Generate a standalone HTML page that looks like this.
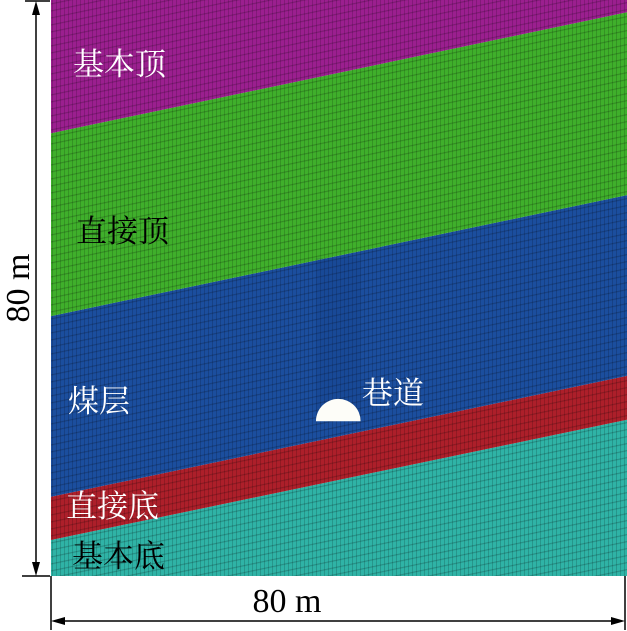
<!DOCTYPE html>
<html><head><meta charset="utf-8"><style>
html,body{margin:0;padding:0;background:#fff;overflow:hidden;width:627px;height:631px;}
svg{display:block;}
text{font-family:"Liberation Serif","Noto Serif CJK SC","Noto Sans CJK SC",serif;}
</style></head><body>
<svg id="fig" width="627" height="631" viewBox="0 0 627 631" xmlns="http://www.w3.org/2000/svg">
<defs>
<pattern id="vgrid" width="4" height="4" patternUnits="userSpaceOnUse">
<rect x="0" y="0" width="1" height="4" fill="#000" fill-opacity="0.16"/>
</pattern>
<pattern id="hgrid" width="4" height="7" patternUnits="userSpaceOnUse" patternTransform="skewY(-11.8)">
<rect x="0" y="0" width="4" height="1.2" fill="#000" fill-opacity="0.2"/>
</pattern>
<clipPath id="meshclip"><rect x="51" y="0" width="576" height="576"/></clipPath>
</defs>
<g id="mesh" clip-path="url(#meshclip)"></g>
<g id="dims" stroke="#000" stroke-width="1.5" fill="none">
<line x1="25" y1="1" x2="50" y2="1"/>
<line x1="22" y1="576" x2="50" y2="576"/>
<line x1="36" y1="8" x2="36" y2="569"/>
<line x1="51" y1="576" x2="51" y2="630"/>
<line x1="625" y1="576" x2="625" y2="630"/>
<line x1="58" y1="621" x2="618" y2="621"/>
</g>
<g fill="#000">
<polygon points="36,1 32,15 40,15"/>
<polygon points="36,576 32,562 40,562"/>
<polygon points="51,621 65,617 65,625"/>
<polygon points="625,621 611,617 611,625"/>
</g>
<text x="0" y="0" font-size="34" text-anchor="middle" transform="translate(29,288) rotate(-90)">80 m</text>
<text x="287" y="612" font-size="34" text-anchor="middle">80 m</text>
<g font-size="31">
<text x="73" y="75" fill="#fff">基本顶</text>
<text x="76" y="242" fill="#000">直接顶</text>
<text x="68" y="412" fill="#fff">煤层</text>
<text x="362" y="404" fill="#fff">巷道</text>
<text x="66" y="517" fill="#fff">直接底</text>
<text x="72" y="567" fill="#000">基本底</text>
</g>
</svg>
<script>
// layer boundary heights (m, from bottom) at left and right edges of the 80 m model
const layerNames = ['main-floor','immediate-floor','coal-seam','immediate-roof','main-roof'];
const layerColors = ['#2fb3a6','#ad1f2a','#1b4e9e','#3faf2b','#9b1f8f'];
const boundaryLeft = [0, 5.0, 11.0, 36.1, 61.5, 80];
const boundaryRight = [0, 21.7, 27.8, 52.9, 78.3, 80];
const roadwayX = 39.9, roadwayBase = 21.5, roadwayR = 3.1;
const X0 = 51, Y0 = 576, S = 7.2, W = 80;
const sx = m => X0 + m * S;
const sy = m => Y0 - m * S;
const clampY = v => Math.max(0, Math.min(576, v));
const NS = 'http://www.w3.org/2000/svg';
const mesh = document.getElementById('mesh');
for (let i = 0; i < layerNames.length; i++) {
  const p = document.createElementNS(NS, 'polygon');
  const yl0 = boundaryLeft[i], yr0 = boundaryRight[i];
  const yl1 = boundaryLeft[i + 1], yr1 = boundaryRight[i + 1];
  p.setAttribute('points', `${sx(0)},${clampY(sy(yl0))} ${sx(W)},${clampY(sy(yr0))} ${sx(W)},${clampY(sy(yr1))} ${sx(0)},${clampY(sy(yl1))}`);
  p.setAttribute('fill', layerColors[i]);
  
  
  mesh.appendChild(p);
}
const g1 = document.createElementNS(NS, 'rect');
g1.setAttribute('x', 51); g1.setAttribute('y', 0); g1.setAttribute('width', 576); g1.setAttribute('height', 576);
g1.setAttribute('fill', 'url(#vgrid)');


mesh.appendChild(g1);
const g2 = document.createElementNS(NS, 'rect');
g2.setAttribute('x', 51); g2.setAttribute('y', 0); g2.setAttribute('width', 576); g2.setAttribute('height', 576);
g2.setAttribute('fill', 'url(#hgrid)');


mesh.appendChild(g2);
const tTop = boundaryLeft[3] + (boundaryRight[3] - boundaryLeft[3]) * (roadwayX / W) - 0.3;
const shade = document.createElementNS(NS, 'rect');
shade.setAttribute('x', sx(roadwayX - roadwayR)); shade.setAttribute('y', sy(tTop));
shade.setAttribute('width', 2 * roadwayR * S); shade.setAttribute('height', (tTop - roadwayBase) * S);
shade.setAttribute('fill', '#0a2a6a'); shade.setAttribute('fill-opacity', '0.12');


mesh.appendChild(shade);
const rw = document.createElementNS(NS, 'path');
const cx = sx(roadwayX), by = sy(roadwayBase), r = roadwayR * S;
rw.setAttribute('d', `M${cx - r},${by} A${r},${r} 0 0 1 ${cx + r},${by} Z`);
rw.setAttribute('fill', '#fdfdf8');


mesh.appendChild(rw);
</script>
</body></html>
